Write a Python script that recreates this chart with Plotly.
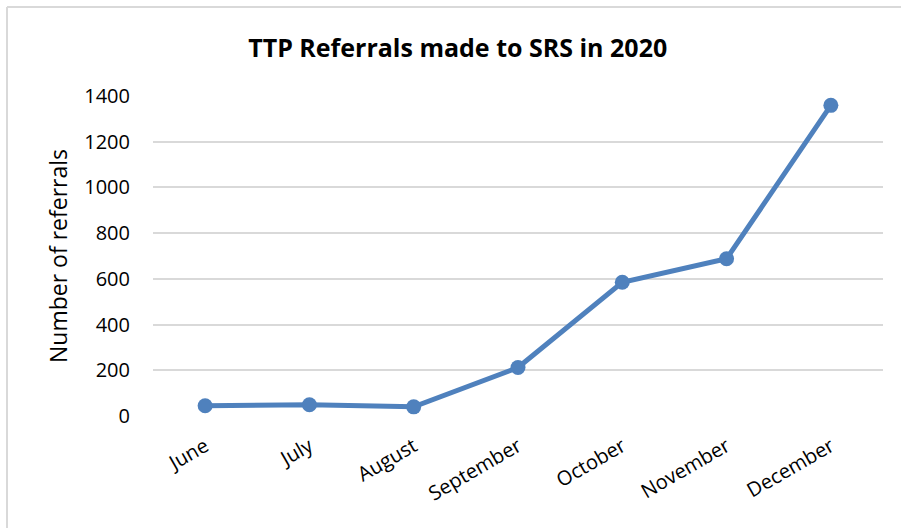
import plotly.graph_objects as go

months = ["June", "July", "August", "September", "October", "November", "December"]
referrals = [45, 49, 40, 212, 585, 688, 1359]
y_ticks = [0, 200, 400, 600, 800, 1000, 1200, 1400]

FONT = "Open Sans"

fig = go.Figure()
fig.add_trace(go.Scatter(
    x=months, y=referrals, mode="lines+markers",
    line=dict(color="#4f81bd", width=5),
    marker=dict(color="#4f81bd", size=15),
    showlegend=False,
    hoverinfo="x+y",
))

fig.update_layout(
    width=901, height=528,
    paper_bgcolor="white", plot_bgcolor="white",
    margin=dict(l=153, r=18, t=96, b=112),
    title=dict(text="<b>TTP Referrals made to SRS in 2020</b>",
               x=0.508, xanchor="center", y=0.908, yanchor="middle",
               font=dict(family=FONT, size=25, color="black")),
    font=dict(family=FONT, color="black"),
    shapes=[
        dict(type="line", xref="paper", yref="paper", x0=-146/730, x1=1+18/730,
             y0=1+89/320, y1=1+89/320, line=dict(color="#d9d9d9", width=2)),
        dict(type="line", xref="paper", yref="paper", x0=-146/730, x1=-146/730,
             y0=-112/320, y1=1+89/320, line=dict(color="#d9d9d9", width=2)),
    ],
)

fig.update_xaxes(
    type="category", tickangle=-30,
    range=[-0.5, len(months) - 0.5], autorange=False,
    tickfont=dict(family=FONT, size=20, color="black"),
    showgrid=False, showline=False, zeroline=False,
    ticks="", ticklabelstandoff=14,
)
fig.update_yaxes(
    range=[0, 1400], tickvals=y_ticks,
    tickfont=dict(family=FONT, size=20, color="black"),
    showgrid=True, gridcolor="#d9d9d9", gridwidth=2,
    zeroline=False, showline=False, ticks="",
    ticklabelstandoff=22,
    title=dict(text="Number of referrals", font=dict(family=FONT, size=23, color="black"), standoff=10),
)

fig.write_html("out.html", config={"displayModeBar": False},
               post_script="document.body.style.margin='0px';")
